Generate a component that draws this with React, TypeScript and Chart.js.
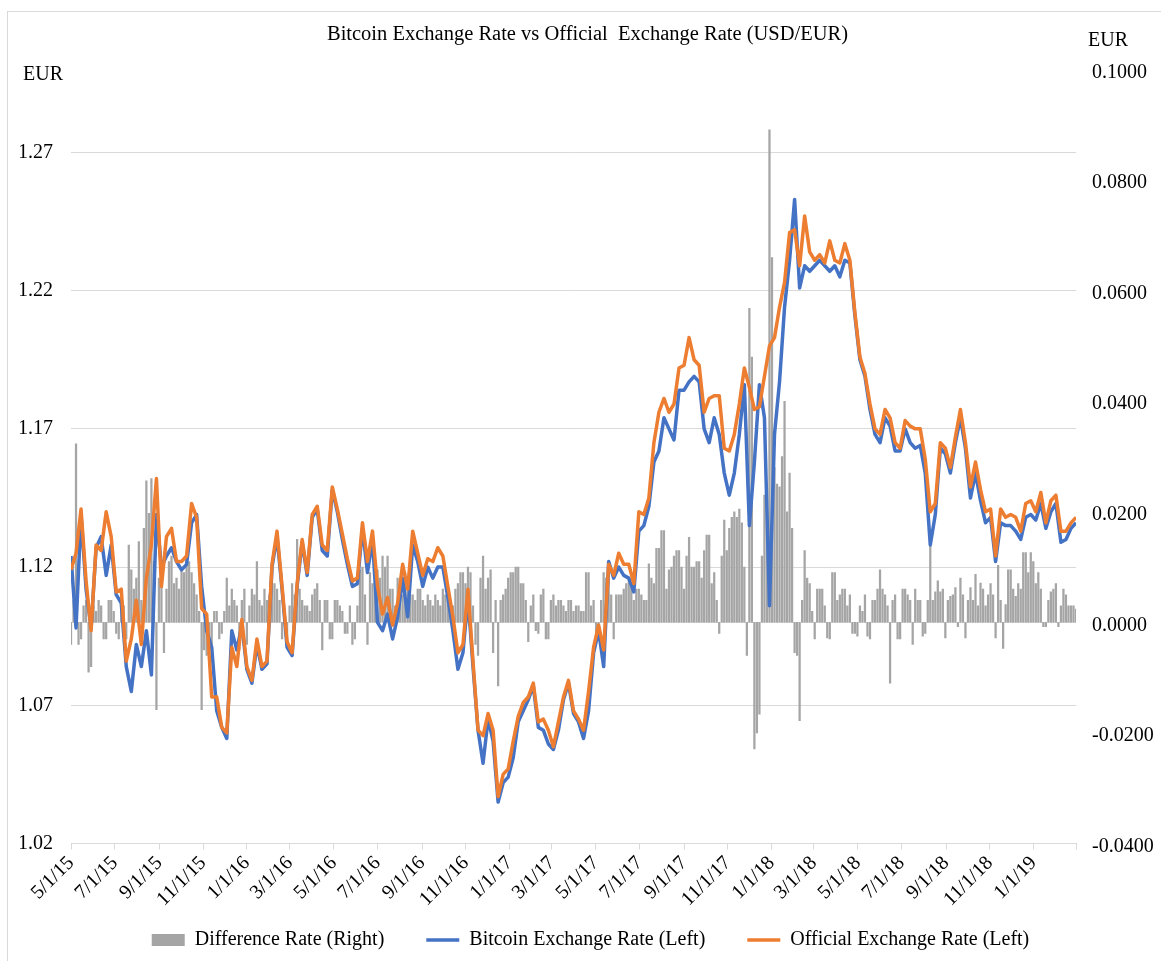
import React, { useEffect, useRef } from 'react';
import { Chart, registerables } from 'chart.js';

Chart.register(...registerables);

const FONT = '"Liberation Serif", "Times New Roman", serif';

const titleText = 'Bitcoin Exchange Rate vs Official  Exchange Rate (USD/EUR)';
const leftUnit = 'EUR';
const rightUnit = 'EUR';

const startDate = '5/1/15';
const axisEndDate = '3/1/19';
const stepDays = 7;

const tickLabels = [
  '5/1/15', '7/1/15', '9/1/15', '11/1/15', '1/1/16', '3/1/16', '5/1/16', '7/1/16',
  '9/1/16', '11/1/16', '1/1/17', '3/1/17', '5/1/17', '7/1/17', '9/1/17', '11/1/17',
  '1/1/18', '3/1/18', '5/1/18', '7/1/18', '9/1/18', '11/1/18', '1/1/19',
];

const leftTicks = [1.02, 1.07, 1.12, 1.17, 1.22, 1.27];
const rightTicks = [-0.04, -0.02, 0, 0.02, 0.04, 0.06, 0.08, 0.1];

const officialRate = [
  1.119, 1.125, 1.141, 1.115, 1.097, 1.128, 1.126, 1.140, 1.131, 1.111,
  1.112, 1.086, 1.094, 1.108, 1.092, 1.116, 1.128, 1.152, 1.113, 1.131,
  1.134, 1.122, 1.122, 1.124, 1.143, 1.138, 1.105, 1.103, 1.073, 1.073,
  1.062, 1.060, 1.091, 1.084, 1.101, 1.084, 1.079, 1.094, 1.084, 1.086,
  1.121, 1.133, 1.113, 1.093, 1.089, 1.114, 1.130, 1.118, 1.139, 1.142,
  1.128, 1.126, 1.149, 1.141, 1.132, 1.123, 1.115, 1.116, 1.136, 1.122,
  1.133, 1.113, 1.103, 1.109, 1.099, 1.107, 1.121, 1.112, 1.133, 1.125,
  1.117, 1.123, 1.122, 1.127, 1.124, 1.113, 1.102, 1.089, 1.092, 1.112,
  1.086, 1.061, 1.059, 1.067, 1.061, 1.037, 1.045, 1.047, 1.057, 1.066,
  1.071, 1.073, 1.078, 1.064, 1.065, 1.061, 1.055, 1.064, 1.073, 1.079,
  1.068, 1.065, 1.061, 1.075, 1.091, 1.099, 1.090, 1.121, 1.117, 1.125,
  1.121, 1.121, 1.114, 1.140, 1.139, 1.145, 1.165, 1.176, 1.181, 1.176,
  1.179, 1.192, 1.193, 1.203, 1.195, 1.193, 1.176, 1.181, 1.182, 1.182,
  1.163, 1.162, 1.168, 1.179, 1.192, 1.185, 1.177, 1.178, 1.189, 1.200,
  1.203, 1.214, 1.223, 1.241, 1.242, 1.229, 1.247, 1.234, 1.231, 1.233,
  1.230, 1.238, 1.231, 1.230, 1.237, 1.231, 1.212, 1.196, 1.190, 1.179,
  1.170, 1.168, 1.177, 1.174, 1.165, 1.163, 1.173, 1.171, 1.170, 1.170,
  1.159, 1.140, 1.143, 1.165, 1.163, 1.156, 1.167, 1.177, 1.165, 1.149,
  1.158, 1.148, 1.140, 1.141, 1.124, 1.141, 1.138, 1.139, 1.138, 1.133,
  1.143, 1.144, 1.140, 1.147, 1.136, 1.144, 1.146, 1.133, 1.133, 1.136,
  1.138,
];

const bitcoinRate = [
  1.124, 1.098, 1.139, 1.112, 1.098, 1.127, 1.131, 1.117, 1.128, 1.110,
  1.107, 1.084, 1.075, 1.092, 1.084, 1.097, 1.081, 1.139, 1.120, 1.124,
  1.127, 1.122, 1.119, 1.121, 1.136, 1.139, 1.113, 1.097, 1.091, 1.068,
  1.062, 1.058, 1.097, 1.090, 1.099, 1.083, 1.078, 1.092, 1.083, 1.085,
  1.120, 1.131, 1.112, 1.091, 1.088, 1.113, 1.129, 1.117, 1.138, 1.141,
  1.126, 1.124, 1.148, 1.140, 1.130, 1.121, 1.113, 1.114, 1.134, 1.118,
  1.130, 1.100, 1.097, 1.103, 1.094, 1.102, 1.116, 1.102, 1.128, 1.122,
  1.113, 1.120, 1.116, 1.120, 1.120, 1.109, 1.097, 1.083, 1.089, 1.109,
  1.084, 1.061, 1.049, 1.065, 1.057, 1.035, 1.042, 1.044, 1.051, 1.064,
  1.068, 1.072, 1.077, 1.062, 1.061, 1.056, 1.054, 1.061, 1.072, 1.078,
  1.067, 1.064, 1.058, 1.068, 1.089, 1.097, 1.084, 1.122, 1.116, 1.120,
  1.117, 1.116, 1.111, 1.133, 1.135, 1.142, 1.158, 1.162, 1.174, 1.170,
  1.166, 1.184, 1.184, 1.187, 1.189, 1.187, 1.170, 1.165, 1.174, 1.168,
  1.154, 1.146, 1.154, 1.168, 1.186, 1.135, 1.158, 1.186, 1.174, 1.106,
  1.168, 1.187, 1.214, 1.231, 1.253, 1.221, 1.229, 1.227, 1.229, 1.231,
  1.229, 1.227, 1.229, 1.225, 1.231, 1.230, 1.211, 1.195, 1.189, 1.177,
  1.168, 1.165, 1.174, 1.171, 1.162, 1.162, 1.170, 1.165, 1.163, 1.164,
  1.154, 1.128, 1.139, 1.163, 1.161, 1.154, 1.165, 1.174, 1.163, 1.145,
  1.154, 1.144, 1.136, 1.138, 1.122, 1.136, 1.135, 1.135, 1.133, 1.130,
  1.138, 1.139, 1.137, 1.143, 1.134, 1.140, 1.143, 1.129, 1.130, 1.134,
  1.136,
];

// difference rate, sampled on the same weekly dates as the lines
const differenceWeekly = [
  -0.004, 0.0323, -0.003, 0.004, -0.008, 0.002, 0.003, -0.003, 0.004, -0.002,
  0.004, -0.003, 0.0095, 0.008, 0.004, 0.0256, 0.026, -0.0158, 0.010, 0.006,
  0.012, 0.008, 0.010, 0.012, 0.009, 0.005, -0.0158, -0.006, -0.004, 0.002,
  -0.002, 0.008, 0.006, 0.003, 0.004, -0.004, 0.006, 0.011, 0.003, 0.004,
  0.0095, 0.006, -0.003, -0.004, 0.007, 0.015, 0.004, 0.003, 0.005, 0.007,
  -0.005, 0.004, -0.003, 0.004, 0.002, -0.002, -0.004, 0.003, 0.010, -0.004,
  0.007, 0.0095, 0.012, 0.012, 0.006, 0.008, 0.005, 0.006, 0.005, 0.006,
  0.004, 0.005, 0.003, 0.004, 0.006, 0.004, 0.003, 0.007, 0.009, 0.010,
  0.003, -0.006, 0.012, 0.008, -0.0055, -0.0115, 0.005, 0.008, 0.009, 0.010,
  0.007, -0.0035, 0.005, -0.002, 0.006, -0.003, 0.005, 0.004, 0.003, 0.004,
  0.002, 0.003, 0.002, 0.009, 0.004, -0.002, 0.009, 0.010, -0.003, 0.005,
  0.006, 0.008, 0.004, 0.006, 0.004, 0.0106, 0.007, 0.0134, 0.0166, 0.0095,
  0.012, 0.013, 0.006, 0.0154, 0.010, 0.011, 0.013, 0.0158, 0.009, -0.002,
  0.0185, 0.017, 0.020, 0.0205, 0.010, 0.0568, -0.0229, -0.0166, 0.023, 0.0891,
  0.028, 0.0245, 0.040, 0.027, -0.0055, -0.0178, 0.013, 0.007, -0.003, 0.006,
  0.003, -0.003, 0.009, 0.005, 0.006, 0.005, -0.002, 0.003, 0.005, -0.003,
  0.004, 0.0095, 0.005, -0.011, 0.005, -0.003, 0.006, 0.004, 0.006, 0.004,
  -0.002, 0.0138, 0.0055, 0.0055, -0.0028, 0.0047, 0.0063, 0.008, -0.0028, 0.0063,
  0.0087, 0.0071, 0.003, 0.007, -0.0028, 0.004, 0.0032, 0.0095, 0.0047, 0.006,
  0.0126, 0.0126, 0.007, 0.006, -0.0008, 0.0055, 0.007, 0.003, 0.005, 0.003,
  0.0024,
];

// difference rate, half a week after each weekly date
const differenceMidweek = [
  0.004, -0.004, 0.003, -0.009, 0.003, 0.004, -0.003, 0.004, 0.002, -0.003,
  0.003, 0.014, 0.006, 0.0146, 0.017, 0.0197, 0.011, 0.008, -0.0055, 0.011,
  0.007, 0.006, 0.009, 0.011, 0.007, 0.002, -0.005, -0.004, 0.002, -0.003,
  0.002, 0.003, 0.004, -0.005, 0.006, 0.003, 0.005, 0.004, 0.006, 0.005,
  0.007, 0.004, 0.002, 0.003, 0.005, 0.006, 0.003, 0.002, 0.006, 0.004,
  0.004, -0.003, 0.004, 0.003, -0.002, 0.003, -0.003, 0.0095, 0.005, 0.009,
  0.006, 0.008, 0.010, 0.006, 0.003, 0.006, 0.009, 0.005, 0.004, 0.006,
  0.003, 0.004, 0.005, 0.003, 0.005, 0.004, 0.006, 0.009, 0.007, 0.009,
  -0.004, 0.008, 0.006, 0.0095, 0.004, 0.004, 0.006, 0.009, 0.010, 0.007,
  0.004, 0.003, -0.0015, 0.005, -0.003, 0.004, 0.003, 0.004, 0.002, 0.004,
  0.003, 0.002, 0.009, 0.003, -0.002, 0.004, 0.008, 0.005, 0.005, 0.005,
  0.007, 0.007, 0.006, 0.005, 0.004, 0.008, 0.0134, 0.0166, 0.006, 0.010,
  0.013, 0.010, 0.012, 0.010, 0.011, 0.008, 0.0158, 0.007, 0.004, 0.012,
  0.013, 0.019, 0.019, 0.018, -0.006, 0.048, -0.020, 0.012, 0.020, 0.066,
  0.025, 0.030, 0.020, 0.017, -0.006, 0.004, 0.008, 0.002, 0.006, 0.006,
  -0.0028, 0.009, 0.004, 0.006, 0.003, -0.002, -0.0025, 0.002, -0.0025, 0.004,
  0.006, 0.006, 0.003, 0.004, -0.003, 0.006, 0.005, -0.004, 0.004, -0.0025,
  0.004, 0.004, 0.0075, 0.006, 0.004, 0.005, -0.0008, 0.005, 0.004, 0.004,
  0.003, 0.006, 0.005, 0.005, 0.0103, -0.0047, 0.0095, 0.006, 0.007, 0.0126,
  0.009, 0.011, 0.009, -0.0008, 0.004, 0.006, -0.0008, 0.006, 0.003, 0.003,
];

const toUTC = (s: string) => {
  const [m, d, y] = s.split('/').map(Number);
  return Date.UTC(2000 + y, m - 1, d);
};
const dayOf = (s: string) => Math.round((toUTC(s) - toUTC(startDate)) / 86400000);

const tickDays = [...tickLabels.map(dayOf), dayOf(axisEndDate)];
const labelByDay: Record<number, string> = {};
tickLabels.forEach((l) => { labelByDay[dayOf(l)] = l; });

const linePoints = (arr: number[]) => arr.map((v, i) => ({ x: i * stepDays, y: v }));
const barPoints = [
  ...differenceWeekly.map((v, i) => ({ x: i * stepDays, y: v })),
  ...differenceMidweek.map((v, i) => ({ x: i * stepDays + stepDays / 2, y: v })),
].sort((a, b) => a.x - b.x);

const decorations = {
  id: 'decorations',
  beforeDraw(chart: any) {
    const ctx = chart.ctx;
    ctx.save();
    ctx.fillStyle = '#ffffff';
    ctx.fillRect(0, 0, chart.width, chart.height);
    ctx.strokeStyle = '#d9d9d9';
    ctx.lineWidth = 1;
    ctx.strokeRect(7.5, 11.5, chart.width + 50, chart.height + 50);
    ctx.restore();
  },
  afterDraw(chart: any) {
    const ctx = chart.ctx;
    ctx.save();
    ctx.fillStyle = '#000000';
    ctx.textBaseline = 'middle';
    ctx.font = `20.5px ${FONT}`;
    ctx.textAlign = 'center';
    ctx.fillText(titleText, 587.5, 35);
    ctx.font = `20px ${FONT}`;
    ctx.textAlign = 'left';
    ctx.fillText(leftUnit, 23, 74.5);
    ctx.fillText(rightUnit, 1088, 41);
    ctx.restore();
  },
};

export default function App() {
  const ref = useRef<HTMLCanvasElement>(null);

  useEffect(() => {
    if (!ref.current) return;
    const font = { family: FONT, size: 20 };
    const chart = new Chart(ref.current, {
      type: 'bar',
      data: {
        datasets: [
          {
            type: 'bar',
            label: 'Difference Rate (Right)',
            data: barPoints as any,
            yAxisID: 'y1',
            backgroundColor: '#a5a5a5',
            borderWidth: 0,
            barThickness: 1.6,
            order: 3,
          } as any,
          {
            type: 'line',
            label: 'Bitcoin Exchange Rate (Left)',
            data: linePoints(bitcoinRate) as any,
            yAxisID: 'y',
            borderColor: '#4472c4',
            backgroundColor: '#4472c4',
            borderWidth: 3.5,
            pointRadius: 0,
            tension: 0,
            borderJoinStyle: 'round',
            order: 2,
          } as any,
          {
            type: 'line',
            label: 'Official Exchange Rate (Left)',
            data: linePoints(officialRate) as any,
            yAxisID: 'y',
            borderColor: '#ed7d31',
            backgroundColor: '#ed7d31',
            borderWidth: 3.5,
            pointRadius: 0,
            tension: 0,
            borderJoinStyle: 'round',
            order: 1,
          } as any,
        ],
      },
      options: {
        animation: false,
        responsive: false,
        devicePixelRatio: 1,
        events: [],
        layout: { padding: { left: 20, right: 0, top: 69.5, bottom: 1 } },
        scales: {
          x: {
            type: 'linear',
            min: 0,
            max: dayOf(axisEndDate),
            offset: false,
            afterBuildTicks: (s: any) => {
              s.ticks = tickDays.map((v) => ({ value: v }));
              // let the rotated date labels run past the (short) axis box
              s._computeLabelArea = () => undefined;
            },
            afterFit: (s: any) => { s.height = 44.5; },
            grid: { drawOnChartArea: false, drawTicks: true, tickLength: 6, color: '#d9d9d9', offset: false },
            border: { display: true, color: '#d9d9d9' },
            ticks: {
              autoSkip: false,
              maxRotation: 45,
              minRotation: 45,
              padding: 2,
              font,
              color: '#000000',
              callback: (v: any) => labelByDay[Number(v)] ?? '',
            },
          },
          y: {
            type: 'linear',
            position: 'left',
            min: 1.02,
            max: 1.30,
            afterBuildTicks: (s: any) => { s.ticks = leftTicks.map((v) => ({ value: v })); },
            afterFit: (s: any) => { s.width = 51; },
            grid: { color: '#d9d9d9', drawTicks: false },
            border: { display: false },
            ticks: { padding: 18, font, color: '#000000', callback: (v: any) => Number(v).toFixed(2) },
          },
          y1: {
            type: 'linear',
            position: 'right',
            min: -0.04,
            max: 0.1,
            afterBuildTicks: (s: any) => { s.ticks = rightTicks.map((v) => ({ value: v })); },
            afterFit: (s: any) => { s.width = 85; },
            grid: { display: false, drawTicks: false },
            border: { display: false },
            ticks: { padding: 16, labelOffset: 3, font, color: '#000000', callback: (v: any) => Number(v).toFixed(4) },
          },
        },
        plugins: {
          title: { display: false },
          tooltip: { enabled: false },
          legend: {
            position: 'bottom',
            labels: {
              usePointStyle: true,
              pointStyleWidth: 33,
              boxHeight: 12,
              padding: 42,
              font,
              color: '#000000',
              sort: (a: any, b: any) => a.datasetIndex - b.datasetIndex,
              generateLabels: (c: any) =>
                (Chart as any).defaults.plugins.legend.labels.generateLabels(c).map((it: any) => {
                  const ds = c.data.datasets[it.datasetIndex];
                  if (it.datasetIndex === 0) {
                    return { ...it, pointStyle: 'rect', fillStyle: ds.backgroundColor, strokeStyle: ds.backgroundColor, lineWidth: 0 };
                  }
                  return { ...it, pointStyle: 'line', fillStyle: ds.borderColor, strokeStyle: ds.borderColor, lineWidth: 3.5 };
                }),
            },
          },
        },
      } as any,
      plugins: [decorations],
    });
    return () => chart.destroy();
  }, []);

  return (
    <div style={{ position: 'absolute', left: 0, top: 0, width: 1161, height: 961, background: '#ffffff' }}>
      <canvas ref={ref} width={1161} height={961} style={{ display: 'block', width: 1161, height: 961 }} />
    </div>
  );
}
